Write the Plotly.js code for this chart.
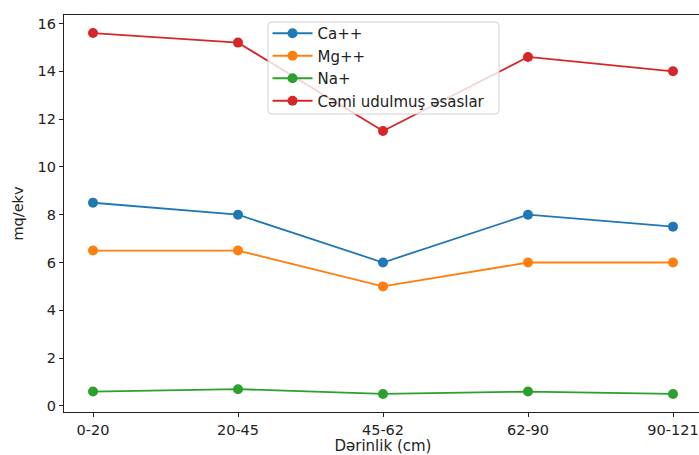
<!DOCTYPE html>
<html><head><meta charset="utf-8">
<script src="https://cdn.plot.ly/plotly-3.0.1.min.js"></script>
<style>html,body{margin:0;padding:0;overflow:hidden;background:#fff;width:699px;height:455px}</style>
</head><body>
<div id="chart" style="width:720px;height:455px"></div>
<script>
const categories = ["0-20", "20-45", "45-62", "62-90", "90-121"];
const ca = [8.5, 8.0, 6.0, 8.0, 7.5];
const mg = [6.5, 6.5, 5.0, 6.0, 6.0];
const na = [0.6, 0.7, 0.5, 0.6, 0.5];
const total = [15.6, 15.2, 11.5, 14.6, 14.0];
const seriesNames = ["Ca++", "Mg++", "Na+", "Cəmi udulmuş əsaslar"];
const colors = ["#1f77b4", "#ff7f0e", "#2ca02c", "#d62728"];
const seriesData = [ca, mg, na, total];

const traces = seriesData.map((vals, i) => ({
  x: categories, y: vals, name: seriesNames[i], type: "scatter", mode: "lines+markers",
  line: {color: colors[i], width: 1.8}, marker: {color: colors[i], size: 10}
}));

const FS = 14.5;
const axisCommon = {
  showline: true, linecolor: "#222", linewidth: 1.2, mirror: true,
  ticks: "outside", ticklen: 4, tickcolor: "#222", showgrid: false, zeroline: false,
  tickfont: {family: "DejaVu Sans", size: FS, color: "#222"}
};

// legend frame (rounded) in paper coordinates
const bx0 = 0.3197, bx1 = 0.6818, by0 = 0.7506, by1 = 0.9824, rx = 0.006, ry = 0.01;
const framePath = `M ${bx0+rx},${by0} L ${bx1-rx},${by0} Q ${bx1},${by0} ${bx1},${by0+ry} L ${bx1},${by1-ry} Q ${bx1},${by1} ${bx1-rx},${by1} L ${bx0+rx},${by1} Q ${bx0},${by1} ${bx0},${by1-ry} L ${bx0},${by0+ry} Q ${bx0},${by0} ${bx0+rx},${by0} Z`;

const layout = {
  width: 720, height: 455,
  margin: {l: 64, r: 18, t: 15, b: 43},
  paper_bgcolor: "#fff", plot_bgcolor: "#fff",
  font: {family: "DejaVu Sans", size: FS, color: "#222"},
  xaxis: Object.assign({}, axisCommon, {
    type: "category", range: [-0.2, 4.2],
    title: {text: "Dərinlik (cm)", font: {size: 15, color: "#222"}, standoff: 2}
  }),
  yaxis: Object.assign({}, axisCommon, {
    range: [-0.255, 16.355], tickvals: [0, 2, 4, 6, 8, 10, 12, 14, 16],
    title: {text: "mq/ekv", font: {size: FS, color: "#222"}, standoff: 10}
  }),
  shapes: [{
    type: "path", xref: "paper", yref: "paper", path: framePath,
    fillcolor: "rgba(255,255,255,0.8)", line: {color: "#d0d0d0", width: 1}, layer: "above"
  }],
  legend: {
    x: 0.319, y: 0.995, xanchor: "left", yanchor: "top",
    bgcolor: "rgba(0,0,0,0)", borderwidth: 0, itemwidth: 40,
    font: {family: "DejaVu Sans", size: 15, color: "#222"}
  },
  showlegend: true
};

Plotly.newPlot("chart", traces, layout, {displayModeBar: false, staticPlot: true});
</script>
</body></html>
